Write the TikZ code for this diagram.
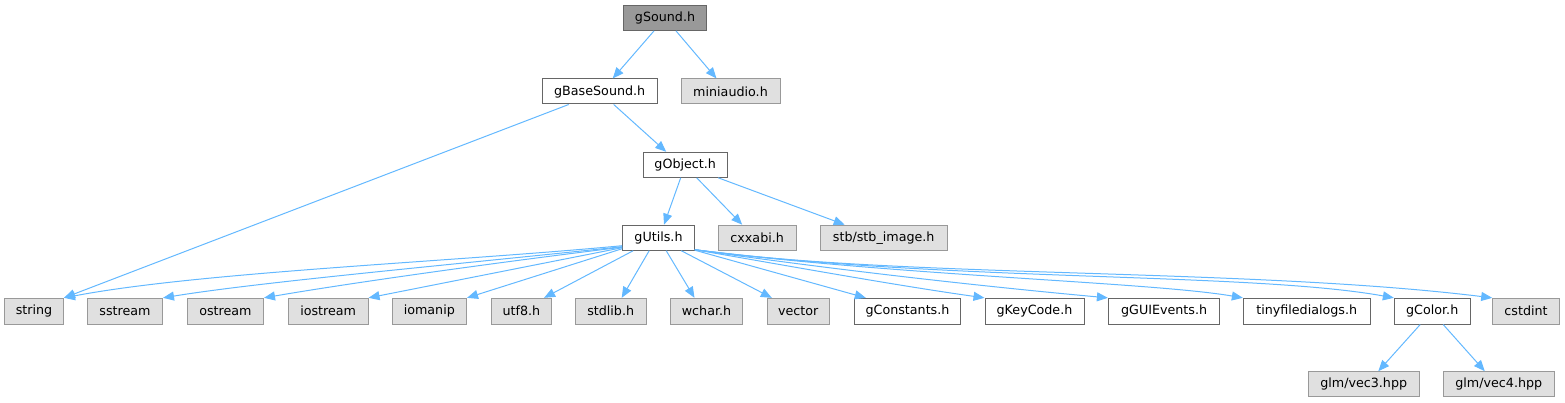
\documentclass[tikz,border=0pt]{standalone}
\usepackage{fontspec}
\setmainfont{DejaVu Sans}
\usetikzlibrary{arrows.meta}
\definecolor{edgeblue}{HTML}{63B8FF}
\definecolor{boxgray}{HTML}{E0E0E0}
\definecolor{bordgray}{HTML}{999999}
\definecolor{borddark}{HTML}{666666}
\definecolor{rootfill}{HTML}{999999}
\begin{document}
\begin{tikzpicture}[x=1pt,y=-1pt,
  box/.style={draw=borddark, fill=white, line width=1pt, inner sep=0pt,
    minimum height=25pt, font=\fontsize{12.7}{15}\selectfont, text=black},
  ext/.style={box, draw=bordgray, fill=boxgray},
  root/.style={box, fill=rootfill, draw=borddark},
  rowc/.style={minimum height=25.7pt},
  edge/.style={draw=edgeblue, line width=1pt, -{Triangle[length=11pt,width=9pt]}}]
\useasboundingbox (0,0) rectangle (1565,403);
% nodes
\node[root, minimum width=83.4pt] (gSound) at (665,17.9) {gSound.h};
\node[box, minimum width=114.7pt] (gBaseSound) at (599.7,91.5) {gBaseSound.h};
\node[ext, minimum width=99pt] (miniaudio) at (730.5,91.5) {miniaudio.h};
\node[box, minimum width=84.3pt] (gObject) at (685.2,164.8) {gObject.h};
\node[box, minimum width=71.6pt] (gUtils) at (658.5,237.7) {gUtils.h};
\node[ext, minimum width=77.7pt] (cxxabi) at (757.2,237.7) {cxxabi.h};
\node[ext, minimum width=126.7pt] (stb) at (883.7,237.7) {stb/stb\_image.h};
\node[ext, rowc, minimum width=59pt] (string) at (34,311.2) {string};
\node[ext, rowc, minimum width=75pt] (sstream) at (125,311.2) {sstream};
\node[ext, rowc, minimum width=76.2pt] (ostream) at (225.4,311.2) {ostream};
\node[ext, rowc, minimum width=79.7pt] (iostream) at (328.2,311.2) {iostream};
\node[ext, rowc, minimum width=74.5pt] (iomanip) at (429.3,311.2) {iomanip};
\node[ext, rowc, minimum width=60.3pt] (utf8) at (521.4,311.2) {utf8.h};
\node[ext, rowc, minimum width=70.7pt] (stdlib) at (610.7,311.2) {stdlib.h};
\node[ext, rowc, minimum width=71.6pt] (wchar) at (706.5,311.2) {wchar.h};
\node[ext, rowc, minimum width=62pt] (vector) at (798.3,311.2) {vector};
\node[box, rowc, minimum width=106.4pt] (gConstants) at (907.5,311.2) {gConstants.h};
\node[box, rowc, minimum width=99pt] (gKeyCode) at (1034.5,311.2) {gKeyCode.h};
\node[box, rowc, minimum width=111.4pt] (gGUIEvents) at (1164.1,311.2) {gGUIEvents.h};
\node[box, rowc, minimum width=126.7pt] (tinyfd) at (1306.7,311.2) {tinyfiledialogs.h};
\node[box, rowc, minimum width=75.7pt] (gColor) at (1432.2,311.2) {gColor.h};
\node[ext, rowc, minimum width=66.6pt] (cstdint) at (1526,311.2) {cstdint};
\node[ext, minimum width=110.7pt] (vec3) at (1363.7,384.2) {glm/vec3.hpp};
\node[ext, minimum width=111pt] (vec4) at (1498.8,384.2) {glm/vec4.hpp};
% edges upper part
\draw[edge] ([xshift=-11pt]gSound.south) -- ([xshift=13pt]gBaseSound.north);
\draw[edge] ([xshift=11pt]gSound.south) -- ([xshift=-14pt]miniaudio.north);
\draw[edge] ([xshift=-31pt]gBaseSound.south) -- (string.north east);
\draw[edge] ([xshift=14pt]gBaseSound.south) -- ([xshift=-19pt]gObject.north);
\draw[edge] ([xshift=-4.5pt]gObject.south) -- ([xshift=5.5pt]gUtils.north);
\draw[edge] ([xshift=11.5pt]gObject.south) -- ([xshift=-15pt]cxxabi.north);
\draw[edge] ([xshift=33pt]gObject.south) -- ([xshift=-39pt]stb.north);
% gUtils to the left
\draw[edge] ([yshift=5pt]gUtils.south west) .. controls (450,262) and (200,272) .. (string.north east);
\draw[edge] ([yshift=4pt]gUtils.south west) .. controls (450,265) and (260,282) .. (sstream.north east);
\draw[edge] ([yshift=3.5pt]gUtils.south west) .. controls (500,262) and (350,283) .. (ostream.north east);
\draw[edge] ([yshift=3pt]gUtils.south west) -- (iostream.north east);
\draw[edge] ([yshift=2pt]gUtils.south west) -- (iomanip.north east);
\draw[edge] ([xshift=11pt]gUtils.south west) -- ([xshift=-8pt]utf8.north east);
\draw[edge] ([xshift=27pt]gUtils.south west) -- ([xshift=11pt]stdlib.north);
\draw[edge] ([xshift=44pt]gUtils.south west) -- ([xshift=-12pt]wchar.north);
\draw[edge] ([xshift=59pt]gUtils.south west) -- ([xshift=5pt]vector.north west);
% gUtils to the right
\draw[edge] ([yshift=0.5pt]gUtils.south east) -- ([xshift=12pt]gConstants.north west);
\draw[edge] ([yshift=1pt]gUtils.south east) .. controls (800,268) and (900,286) .. (gKeyCode.north west);
\draw[edge] ([yshift=1pt]gUtils.south east) .. controls (850,272) and (1000,288) .. (gGUIEvents.north west);
\draw[edge] ([yshift=1pt]gUtils.south east) .. controls (900,276) and (1150,282) .. (tinyfd.north west);
\draw[edge] ([yshift=1pt]gUtils.south east) .. controls (950,282) and (1250,272) .. (gColor.north west);
\draw[edge] ([yshift=1pt]gUtils.south east) .. controls (900,278) and (1250,268) .. (cstdint.north west);
% gColor
\draw[edge] ([xshift=-12pt]gColor.south) -- ([xshift=14.6pt]vec3.north);
\draw[edge] ([xshift=11pt]gColor.south) -- ([xshift=-14pt]vec4.north);
\end{tikzpicture}
\end{document}
